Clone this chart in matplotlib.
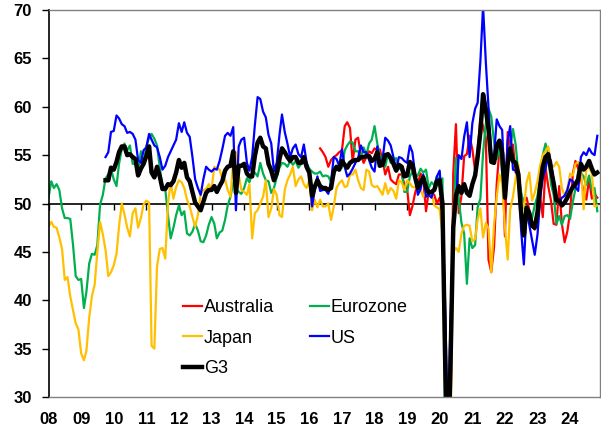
import numpy as np
import pandas as pd
import matplotlib
matplotlib.use("Agg")
import matplotlib.pyplot as plt
import matplotlib.dates as mdates

plt.rcParams["font.family"] = ["Liberation Sans", "DejaVu Sans"]
plt.rcParams["font.weight"] = "bold"

# services PMIs, monthly
eurozone_start = "2008-01"
eurozone = (
    [50.6, 52.3, 51.6, 52.0, 51.4, 49.5, 48.5, 48.5, 48.4, 45.8, 42.5, 42.1]
    + [42.2, 39.2, 40.9, 43.8, 44.8, 44.7, 45.7, 49.9, 50.9, 52.6, 53.0, 53.6]
    + [52.5, 51.8, 54.1, 55.6, 56.2, 55.5, 56.0, 54.1, 54.1, 53.3, 55.4, 54.2]
    + [55.9, 56.8, 57.2, 56.7, 56.0, 53.7, 51.6, 51.5, 48.8, 46.4, 47.5, 48.8]
    + [49.8, 48.8, 49.2, 46.9, 46.7, 47.1, 47.9, 47.2, 46.1, 46.0, 46.7, 47.8]
    + [48.6, 47.9, 46.4, 47.0, 47.2, 48.3, 49.8, 50.7, 52.2, 51.6, 51.2, 51.0]
    + [51.6, 52.6, 52.2, 53.1, 53.2, 52.8, 54.2, 53.1, 52.4, 52.3, 51.1, 51.6]
    + [52.7, 53.7, 54.2, 54.1, 53.8, 54.4, 54.0, 54.4, 53.7, 54.1, 54.2, 54.2]
    + [53.6, 53.3, 53.1, 53.1, 53.3, 52.8, 52.9, 52.8, 52.2, 52.8, 53.8, 53.7]
    + [53.7, 55.5, 56.0, 56.4, 56.3, 55.4, 55.4, 54.7, 55.8, 55.0, 56.2, 56.6]
    + [58.0, 56.2, 54.9, 54.7, 53.8, 55.2, 54.2, 54.4, 54.7, 53.7, 53.4, 51.2]
    + [51.2, 52.8, 53.3, 52.8, 52.9, 53.6, 53.2, 53.5, 51.6, 52.2, 51.9, 52.8]
    + [52.5, 52.6, 26.4, 12.0, 30.5, 48.3, 54.7, 50.5, 48.0, 46.9, 41.7, 46.4]
    + [45.4, 45.7, 49.6, 50.5, 55.2, 58.3, 59.8, 59.0, 56.4, 54.6, 55.9, 53.1]
    + [51.1, 55.5, 55.6, 57.7, 56.1, 53.0, 51.2, 49.8, 48.8, 48.6, 48.5, 49.8]
    + [50.8, 52.7, 55.0, 56.2, 55.1, 52.0, 50.9, 47.9, 48.7, 47.8, 48.7, 48.8]
    + [48.4, 50.2, 51.5, 53.3, 53.2, 52.8, 51.9, 52.9, 51.4, 51.6, 49.2]
)

japan_start = "2008-01"
japan = (
    [47.6, 48.1, 47.6, 47.5, 46.5, 45.3, 42.1, 42.4, 40.4, 39.0, 37.6, 37.0]
    + [34.5, 33.8, 34.8, 38.2, 40.4, 41.6, 45.0, 48.1, 46.8, 45.2, 42.5, 42.9]
    + [43.6, 44.8, 47.6, 50.0, 48.9, 47.5, 46.6, 49.0, 49.5, 47.5, 48.5, 49.9]
    + [50.3, 50.1, 35.3, 35.0, 43.5, 45.3, 45.4, 44.3, 50.0, 52.2, 50.5, 51.7]
    + [52.4, 52.2, 51.6, 50.4, 49.7, 48.6, 47.6, 48.8, 51.0, 51.4, 51.5, 52.0]
    + [51.5, 53.8, 53.6, 53.5, 52.6, 52.5, 51.4, 50.7, 54.5, 55.3, 53.0, 51.4]
    + [51.2, 50.9, 52.0, 46.4, 49.0, 49.3, 50.0, 50.7, 52.4, 48.6, 49.5, 51.5]
    + [50.9, 48.8, 48.6, 51.4, 52.4, 53.0, 53.8, 51.8, 52.5, 52.8, 52.0, 51.6]
    + [52.4, 49.3, 50.4, 49.6, 50.4, 49.7, 49.7, 50.0, 48.3, 49.7, 51.6, 52.1]
    + [52.4, 51.7, 51.8, 53.0, 53.0, 53.5, 52.4, 51.6, 51.4, 53.5, 53.3, 51.9]
    + [51.7, 51.8, 51.4, 50.9, 52.1, 51.0, 51.6, 51.3, 50.5, 52.4, 52.2, 51.4]
    + [52.4, 52.1, 51.7, 51.7, 51.4, 51.4, 50.7, 51.4, 51.0, 51.2, 49.8, 49.6]
    + [49.4, 46.8, 33.8, 21.5, 26.5, 45.0, 45.4, 45.0, 46.9, 47.7, 47.8, 47.7]
    + [46.1, 46.3, 48.3, 49.5, 46.5, 48.0, 47.4, 42.9, 47.8, 50.7, 53.0, 52.1]
    + [47.6, 44.2, 49.4, 50.7, 52.6, 54.0, 50.3, 49.5, 52.2, 53.2, 50.3, 51.1]
    + [52.3, 54.0, 55.0, 55.4, 55.9, 54.0, 53.8, 54.3, 53.8, 51.6, 50.8, 51.5]
    + [53.1, 52.9, 54.1, 54.3, 53.8, 49.4, 53.7, 53.7, 53.1, 49.7, 49.8]
)

us_start = "2009-10"
us = (
    [54.8, 55.3, 57.4]
    + [57.5, 59.1, 58.8, 58.2, 58.0, 57.3, 57.4, 57.2, 56.6, 54.5, 54.2, 55.5]
    + [55.8, 57.2, 56.6, 56.0, 55.8, 54.8, 53.5, 53.9, 54.8, 55.4, 56.0, 56.6]
    + [58.3, 57.4, 58.4, 57.3, 56.9, 54.8, 52.5, 51.6, 50.9, 52.5, 53.8, 53.5]
    + [53.3, 53.6, 53.5, 54.4, 55.6, 57.0, 57.3, 57.0, 57.9, 49.3, 55.9, 56.6]
    + [56.8, 54.2, 53.4, 54.8, 58.1, 61.0, 60.8, 59.5, 58.9, 57.1, 56.2, 53.3]
    + [54.2, 57.1, 59.2, 57.4, 56.2, 54.8, 55.7, 56.1, 55.1, 54.8, 56.1, 54.3]
    + [53.2, 49.7, 51.3, 52.8, 51.3, 51.4, 51.4, 51.0, 52.3, 54.8, 54.6, 53.9]
    + [55.6, 53.8, 52.8, 53.1, 53.6, 54.2, 54.7, 56.0, 55.3, 55.3, 54.5, 53.7]
    + [53.3, 55.9, 54.0, 54.6, 56.8, 56.5, 56.0, 54.8, 53.5, 54.8, 54.7, 54.4]
    + [54.2, 56.0, 55.3, 53.0, 50.9, 51.5, 53.0, 50.7, 50.9, 50.6, 51.6, 52.8]
    + [53.4, 49.4, 39.8, 26.7, 37.5, 47.9, 50.0, 55.0, 54.6, 56.9, 58.4, 54.8]
    + [58.3, 59.8, 60.4, 64.7, 70.4, 64.6, 59.9, 55.1, 54.9, 58.7, 58.0, 57.6]
    + [51.2, 56.5, 58.0, 53.5, 53.4, 52.7, 47.3, 43.7, 49.3, 47.8, 46.2, 44.7]
    + [46.8, 50.6, 52.6, 53.6, 54.9, 54.4, 52.3, 50.5, 50.1, 50.6, 50.8, 51.4]
    + [52.5, 52.3, 51.7, 51.3, 54.8, 55.3, 55.0, 55.7, 55.2, 55.0, 57.0]
)

australia_start = "2016-05"
australia = (
    [55.7, 55.3, 54.8, 53.8, 54.5, 54.8, 55.0, 55.3]
    + [55.5, 58.0, 58.4, 57.8, 54.3, 56.6, 56.8, 55.0, 54.2, 54.8, 55.4, 55.2]
    + [55.7, 55.5, 55.6, 54.5, 53.0, 53.8, 52.5, 52.2, 52.0, 53.0, 53.0, 52.0]
    + [51.5, 48.8, 49.7, 51.1, 52.1, 53.1, 52.5, 49.2, 51.4, 51.1, 50.9, 50.0]
    + [50.6, 49.0, 38.5, 19.5, 26.9, 53.1, 58.2, 49.0, 50.8, 54.9, 55.1, 57.0]
    + [55.6, 53.4, 55.5, 58.8, 58.0, 56.8, 44.2, 42.9, 45.5, 52.0, 55.7, 55.1]
    + [46.6, 57.4, 55.6, 56.1, 53.2, 52.6, 50.9, 50.2, 50.6, 49.3, 47.6, 47.3]
    + [48.6, 50.7, 48.6, 53.7, 51.8, 50.3, 47.9, 47.8, 51.8, 47.9, 46.0, 47.1]
    + [49.1, 53.1, 54.4, 53.6, 52.5, 51.2, 50.4, 52.5, 50.5, 51.0, 50.6]
)

g3_start = "2009-10"
g3 = (
    [52.4, 52.4, 53.7]
    + [53.5, 54.3, 55.3, 55.9, 55.9, 55.0, 55.1, 54.8, 54.6, 52.9, 53.6, 54.1]
    + [54.9, 55.9, 53.2, 52.7, 53.8, 52.8, 51.5, 51.5, 52.0, 51.9, 52.3, 53.2]
    + [54.5, 53.7, 54.2, 52.7, 52.3, 51.2, 50.1, 49.7, 49.3, 50.2, 51.1, 51.4]
    + [51.4, 51.8, 51.2, 51.8, 52.3, 53.4, 53.8, 53.9, 55.4, 51.1, 53.9, 53.9]
    + [54.1, 53.1, 52.8, 52.8, 54.9, 56.3, 56.8, 55.9, 55.7, 54.1, 53.4, 52.4]
    + [53.1, 54.6, 55.7, 55.3, 54.8, 54.4, 54.8, 54.8, 54.2, 54.2, 54.8, 53.8]
    + [53.2, 50.8, 51.7, 52.4, 51.8, 51.6, 51.6, 51.4, 51.6, 53.3, 53.8, 53.5]
    + [54.4, 54.0, 53.7, 54.2, 54.4, 54.5, 54.5, 54.8, 54.8, 54.9, 54.9, 54.4]
    + [54.6, 55.3, 53.9, 54.0, 55.0, 55.1, 54.7, 54.1, 53.4, 54.0, 53.8, 52.8]
    + [52.9, 54.3, 54.0, 52.7, 51.6, 52.2, 52.7, 51.7, 51.1, 51.2, 51.4, 52.3]
    + [52.4, 50.0, 34.4, 21.0, 33.3, 47.5, 50.8, 51.8, 51.1, 52.0, 51.1, 50.8]
    + [52.0, 52.9, 54.8, 57.4, 61.3, 59.7, 57.7, 54.3, 54.2, 56.0, 56.5, 55.2]
    + [50.6, 54.1, 55.7, 54.4, 54.2, 53.0, 49.1, 46.7, 49.6, 49.0, 47.7, 47.5]
    + [49.1, 51.9, 53.8, 54.8, 55.1, 53.5, 52.1, 50.3, 50.3, 49.8, 50.1, 50.6]
    + [51.2, 51.7, 52.0, 52.5, 54.1, 53.5, 53.8, 54.4, 53.6, 53.0, 53.2]
)


def months(start, values):
    return pd.date_range(start, periods=len(values), freq="MS")


fig = plt.figure(figsize=(6.01, 4.32), dpi=100)
ax = fig.add_axes([0.0807, 0.081, 0.9176, 0.8958])

l_au, = ax.plot(months(australia_start, australia), australia,
                color="#FF0000", lw=1.6, label="Australia")
l_ez, = ax.plot(months(eurozone_start, eurozone), eurozone,
                color="#00B050", lw=1.6, label="Eurozone")
l_jp, = ax.plot(months(japan_start, japan), japan,
                color="#FFC000", lw=1.6, label="Japan")
l_us, = ax.plot(months(us_start, us), us,
                color="#0000FF", lw=1.6, label="US")
l_g3, = ax.plot(months(g3_start, g3), g3,
                color="black", lw=3.2, label="G3")

ax.set_ylim(30, 70)
ax.set_yticks(np.arange(30, 71, 5))
ax.set_xlim(pd.Timestamp("2008-01-01"), pd.Timestamp("2024-12-01"))
ax.xaxis.set_major_locator(mdates.YearLocator())
ax.xaxis.set_major_formatter(mdates.DateFormatter("%y"))

ax.tick_params(axis="x", length=0, pad=11, labelsize=12)
ax.tick_params(axis="y", direction="out", length=5, width=1, pad=7, labelsize=12)

for side in ["top", "right", "bottom"]:
    ax.spines[side].set_color("#808080")
    ax.spines[side].set_linewidth(1)
ax.spines["left"].set_color("black")
ax.spines["left"].set_linewidth(1.2)

# the 50 line with year ticks
sec = ax.secondary_xaxis(0.5)
sec.set_alignment("bottom")
sec.xaxis.set_major_locator(mdates.YearLocator())
sec.xaxis.set_major_formatter(plt.NullFormatter())
sec.tick_params(axis="x", direction="out", length=4, width=1, color="black")
sec.spines["bottom"].set_color("black")
sec.spines["bottom"].set_linewidth(1.2)

ax.legend(
    handles=[l_au, l_jp, l_g3, l_ez, l_us],
    loc="upper left",
    bbox_to_anchor=(183 / 601, 1 - 299 / 432),
    bbox_transform=fig.transFigure,
    ncol=2,
    frameon=False,
    prop={"size": 13, "weight": "normal"},
    handlelength=1.05,
    handletextpad=0.1,
    columnspacing=2.0,
    labelspacing=0.75,
    borderpad=0,
    borderaxespad=0,
)

fig.savefig("out.png", dpi=100)
